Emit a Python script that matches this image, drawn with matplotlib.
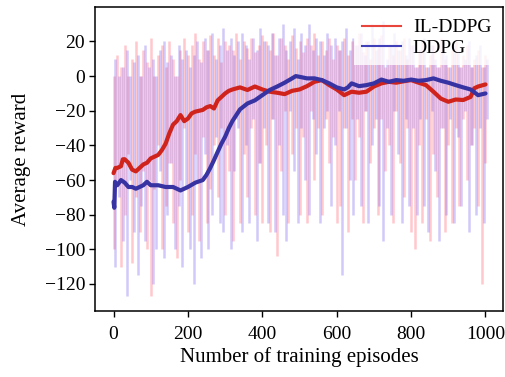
import numpy as np
import matplotlib
matplotlib.use("Agg")
import matplotlib.pyplot as plt
from matplotlib.lines import Line2D

plt.rcParams['font.family'] = ['Liberation Serif', 'DejaVu Serif']

# ---- smoothed curves (episode, value) ----
il_ep = [0, 5, 10, 20, 25, 30, 40, 50, 60, 70, 80, 90, 100, 110, 120, 130, 140, 150, 160, 170,
         180, 190, 200, 210, 220, 230, 240, 250, 260, 270, 280, 290, 300, 310, 320, 340, 360, 380,
         400, 420, 440, 460, 480, 500, 520, 540, 560, 580, 600, 620, 640, 660, 680, 700, 720, 740,
         760, 780, 800, 820, 840, 860, 880, 900, 920, 940, 960, 970, 980, 1000]
il_smooth = [-56, -53, -53, -52, -48, -48, -50, -54, -55, -53, -51, -50, -47.5, -46.5, -45.5, -42.7,
             -39, -33, -28, -26, -22.5, -26, -24.5, -21.5, -20.5, -20, -19.5, -18, -17.3, -18.7, -14,
             -12, -10, -8.5, -7.7, -6.5, -8, -6, -7.7, -9, -9.6, -10.4, -8.5, -7.7, -5.8, -3.3, -2.3,
             -5.2, -7.7, -11, -9, -9.6, -9, -6, -4.2, -3.3, -3.8, -3, -2.3, -3.8, -5.2, -9, -13, -14.8,
             -13.5, -13.8, -12, -7, -6, -4.8]

dd_ep = [0, 2, 4, 10, 20, 30, 40, 50, 60, 80, 90, 100, 120, 140, 160, 180, 200, 220, 240, 250, 260,
         270, 280, 290, 300, 310, 320, 330, 340, 360, 380, 400, 420, 440, 460, 480, 490, 500, 520,
         540, 560, 580, 600, 620, 630, 640, 660, 680, 700, 720, 740, 760, 780, 800, 820, 840, 860,
         880, 900, 920, 940, 960, 980, 1000]
dd_smooth = [-72.5, -76, -61, -63, -60, -61.5, -64, -64, -65, -63, -61, -63, -63, -64, -64, -66, -64,
             -61.5, -60, -57, -53, -48.5, -43.7, -39, -35, -30, -25.8, -22.5, -19.2, -15.8, -14, -11,
             -8, -6, -3.8, -1.3, 0, -0.4, -1.3, -1.3, -2.3, -4.2, -6.5, -7.7, -6.5, -4.2, -5.8, -5.2,
             -4.2, -2, -3.3, -2.3, -2.7, -2, -2.7, -2.3, -1.3, -2.7, -3.8, -5.2, -6.5, -7.7, -11, -10]

# ---- raw episode reward extremes, every 10 episodes ----
raw_ep = list(range(0, 1001, 10))
il_hi = [0, 12, 5, 18, 0, 10, 20, 0, 15, 8, 22, 0, 12, 18, 5, 20, 10, 0, 15, 22, 12,
         18, 25, 10, 20, 15, 24, 12, 22, 8, 20, 18, 15, 25, 10, 20, 16, 22, 14, 18, 24,
         20, 15, 25, 12, 22, 18, 10, 24, 16, 20, 14, 22, 18, 25, 12, 20, 15, 22, 10, 18,
         15, 22, 12, 20, 18, 25, 14, 20, 10, 22, 16, 24, 5, 18, 12, 20, 15, 22, 10, 18,
         5, 15, 20, 5, 12, 18, 5, 22, 10, 5, 15, 20, 5, 12, 18, 5, 10, 15, 5, 12]
il_lo = [-100, -60, -110, -80, -45, -108, -70, -90, -55, -100, -127, -65, -40, -100, -75, -50, -85,
         -105, -60, -30, -90,
         -80, -45, -95, -35, -85, -65, -40, -70, -30, -80, -55, -95, -25, -85, -45, -70, -30, -80,
         -50, -85,
         -40, -90, -25, -104, -55, -20, -85, -45, -30, -80, -35, -85, -20, -60, -30, -80, -25, -50,
         -35, -85,
         -75, -30, -90, -25, -60, -35, -85, -20, -50, -30, -80, -25, -55, -40, -85, -20, -50, -70,
         -30, -90,
         -100, -40, -85, -25, -95, -45, -70, -30, -90, -40, -85, -30, -75, -25, -60, -40, -30, -75,
         -120, -50]
dd_hi = [10, 0, 5, 15, 0, 8, 12, 0, 18, 5, 10, 0, 15, 20, 8, 12, 0, 18, 10, 15, 5,
         12, 20, 8, 22, 15, 25, 10, 18, 28, 15, 22, 12, 20, 25, 18, 10, 22, 15, 28, 20,
         18, 25, 12, 22, 30, 15, 20, 28, 10, 25, 18, 30, 15, 22, 20, 12, 25, 18, 22, 15,
         20, 28, 15, 22, 18, 25, 12, 20, 30, 15, 22, 32, 10, 18, 25, 15, 20, 12, 22, 18,
         5, 15, 22, 5, 18, 10, 5, 20, 12, 5, 18, 15, 5, 10, 20, 5, 12, 18, 5, 10]
dd_lo = [-110, -70, -95, -127, -60, -90, -115, -75, -95, -60, -120, -100, -55, -105, -80, -50, -100,
         -75, -110, -65, -100,
         -120, -60, -105, -45, -100, -80, -35, -85, -90, -40, -100, -55, -30, -90, -40, -85, -25,
         -95, -50, -30,
         -85, -25, -90, -40, -80, -95, -20, -55, -85, -30, -60, -80, -25, -45, -85, -30, -20, -75,
         -40, -20,
         -115, -30, -60, -80, -25, -75, -20, -85, -40, -25, -75, -95, -30, -80, -20, -45, -85, -25,
         -75, -30,
         -80, -25, -75, -90, -20, -55, -95, -30, -80, -25, -85, -35, -75, -20, -90, -40, -80, -30,
         -85, -25]

xticks = [0, 200, 400, 600, 800, 1000]
yticks = [20, 0, -20, -40, -60, -80, -100, -120]

RED_RAW = '#ff4a5a'
BLUE_RAW = '#6a4cf0'
RED = '#d0231b'
BLUE = '#3833a3'

fig = plt.figure(figsize=(5.05, 3.77), dpi=100)
ax = fig.add_axes([0.188, 0.175, 0.808, 0.806])

raw_x = np.array(raw_ep, dtype=float)
ax.vlines(raw_x, il_lo, il_hi, color=RED_RAW, alpha=0.3, lw=1.8)
ax.vlines(raw_x + 5, dd_lo, dd_hi, color=BLUE_RAW, alpha=0.3, lw=1.8)

ax.plot(il_ep, il_smooth, color=RED, lw=3.0, solid_capstyle='round')
ax.plot(dd_ep, dd_smooth, color=BLUE, lw=3.0, solid_capstyle='round')

ax.set_xlim(-50, 1047)
ax.set_ylim(-135.6, 39.8)
ax.set_xticks(xticks)
ax.set_yticks(yticks)
ax.set_yticklabels([str(v).replace('-', '\u2212') for v in yticks])
ax.tick_params(labelsize=14, length=4, width=1, pad=3)
ax.tick_params(axis='x', pad=7)
for s in ax.spines.values():
    s.set_linewidth(1.1)
ax.set_xlabel('Number of training episodes', fontsize=15, labelpad=3)
ax.set_ylabel('Average reward', fontsize=15, labelpad=10)

handles = [Line2D([], [], color='#e8453c', lw=1.5), Line2D([], [], color='#4040b8', lw=1.5)]
leg = ax.legend(handles, ['IL-DDPG', 'DDPG'], loc='upper right', fontsize=14, frameon=True,
                framealpha=0.8, edgecolor='none', borderaxespad=0.2, handlelength=2.0,
                handletextpad=0.6, labelspacing=0.15, fancybox=False)

fig.savefig('out.png', dpi=100)
